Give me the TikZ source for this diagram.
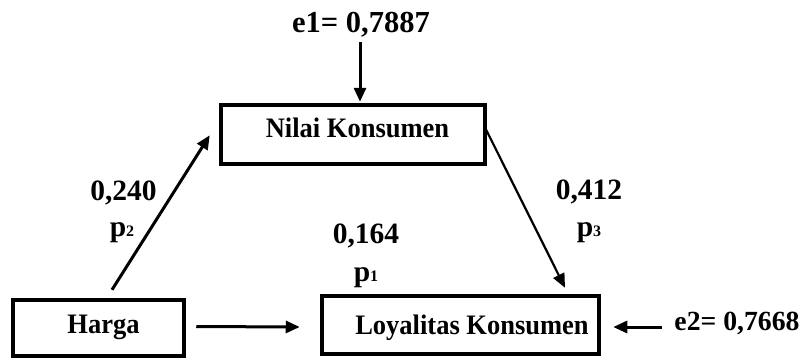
\documentclass[tikz,border=0pt]{standalone}
\usepackage{fontspec}
\setmainfont{Liberation Serif}
\newfontfamily\boxfont{Liberation Serif}[FakeStretch=0.94]
\usetikzlibrary{arrows.meta}
% small index digit set on the baseline after a path name
\newcommand\pidx[1]{{\fontsize{16}{16}\selectfont #1}}
\begin{document}
\begin{tikzpicture}[x=1pt,y=-1pt,
  box/.style={draw,line width=3.5pt,inner sep=0pt},
  boxtxt/.style={font=\boxfont\fontsize{28.2}{30}\selectfont\bfseries,inner sep=0pt,anchor=base},
  lbl/.style={font=\fontsize{29.5}{30}\selectfont\bfseries,inner sep=0pt,anchor=base},
  arr/.style={line width=3pt,-{Triangle[length=14pt,width=12pt]}},
  thinarr/.style={arr,line width=2.2pt}]
\useasboundingbox (0,0) rectangle (810,360);

% variable boxes
\node[box,minimum width=264pt,minimum height=59pt] (nilai) at (353,134.5) {};
\node[boxtxt] (nilaitxt) at (357.5,137) {Nilai Konsumen};
\node[box,minimum width=277pt,minimum height=58pt] (loyal) at (460.5,325) {};
\node[boxtxt] (loyaltxt) at (472,334) {Loyalitas Konsumen};
\node[box,minimum width=171pt,minimum height=56pt] (harga) at (98.5,328) {};
\node[boxtxt] (hargatxt) at (103.5,333) {Harga};

% error terms
\node[lbl,font=\fontsize{30.5}{30}\selectfont\bfseries] (e1) at (361,32) {e1= 0,7887};
\node[lbl,font=\fontsize{27.7}{30}\selectfont\bfseries] (e2) at (737,330) {e2= 0,7668};

% path coefficients
\node[lbl] (c240) at (123.5,200) {0,240};
\node[lbl] (p2) at (122,236) {p\pidx{2}};
\node[lbl] (c412) at (589,199) {0,412};
\node[lbl] (p3) at (589,236) {p\pidx{3}};
\node[lbl] (c164) at (366,243) {0,164};
\node[lbl] (p1) at (366,281) {p\pidx{1}};

% connectors
\draw[arr] ([xshift=-1pt,yshift=-10pt]e1.base) -- ([xshift=7pt,yshift=1.5pt]nilai.north);
\draw[arr] ([xshift=-75pt,yshift=3pt]e2.base) -- ([xshift=12.5pt,yshift=-2pt]loyal.east);
\draw[arr] ([xshift=10.5pt,yshift=1.5pt]harga.east) -- ([xshift=-20.5pt,yshift=-2pt]loyal.west);
\draw[arr] ([xshift=13.5pt,yshift=8.5pt]harga.north) -- ([xshift=-9.5pt,yshift=30.5pt]nilai.south west);
\draw[thinarr] ([xshift=-1.5pt,yshift=6.5pt]nilai.east) -- ([xshift=104.5pt,yshift=6.5pt]loyal.north);
\end{tikzpicture}
\end{document}
